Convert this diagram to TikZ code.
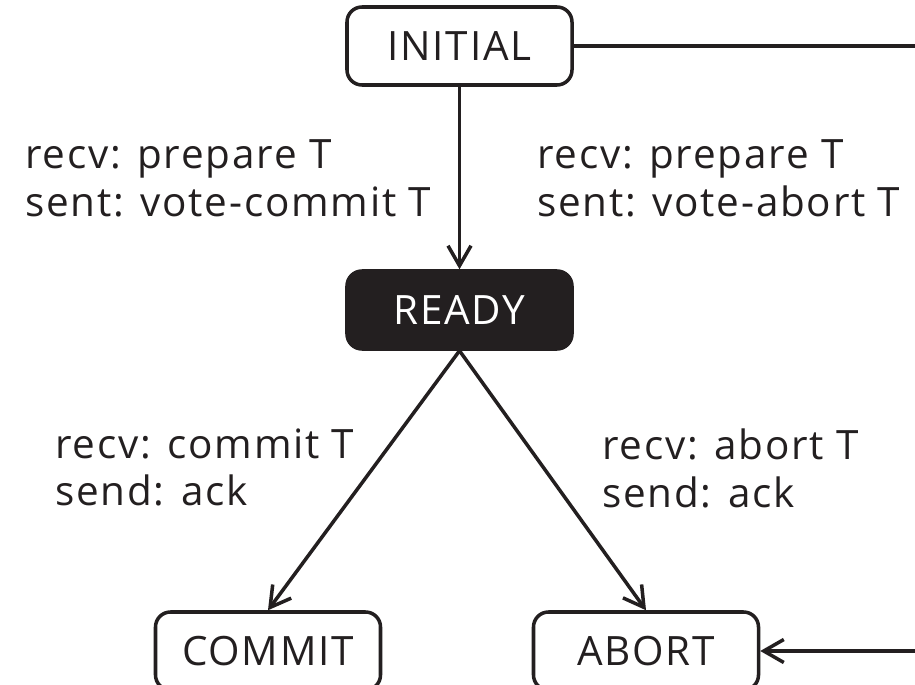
\documentclass[tikz,border=0pt]{standalone}
\usepackage{fontspec}
\setmainfont{Open Sans}[LetterSpace=4.4]
\usetikzlibrary{arrows.meta}
\definecolor{ink}{HTML}{231F20}

\begin{document}
\begin{tikzpicture}[
    state/.style={draw=ink, line width=2pt, rounded corners=0.3cm, text=ink,
      minimum width=4.5cm, minimum height=1.56cm, font=\fontsize{23}{27.3}\selectfont},
    active/.style={state, fill=ink, text=white},
    trans/.style={-{Straight Barb[length=0.4cm, width=0.46cm, line width=2pt]}, line width=2pt, draw=ink},
    note/.style={text=ink, align=left, inner sep=0pt, anchor=north west, font=\fontsize{23}{27.3}\selectfont}
  ]
  \useasboundingbox (0,0) rectangle (18.3,13.68);

  % States
  \node[state] (initial) at (9.19, 12.76) {INITIAL};
  \node[active] (ready) at (9.19, 7.48) {READY};
  \node[state] (commit) at (5.36, 0.66) {COMMIT};
  \node[state] (abort) at (12.92, 0.66) {ABORT};

  % Labels
  \node[note] (votecommit) at (0.5, 10.9) {recv: prepare T\\sent: vote-commit T};
  \node[note] (voteabort) at (10.74, 10.9) {recv: prepare T\\sent: vote-abort T};
  \node[note] (gotcommit) at (1.1, 5.12) {recv: commit T\\send: ack};
  \node[note] (gotabort) at (12.04, 5.12) {recv: abort T\\send: ack};

  % Transitions
  \coordinate (corner) at (19, 7);
  \draw[trans] (initial) -- (ready);
  \draw[trans] (ready.south) -- (commit.north);
  \draw[trans] (ready.south) -- (abort.north);
  \draw[trans] (initial.east) -| (corner) |- (abort.east);
\end{tikzpicture}
\end{document}
